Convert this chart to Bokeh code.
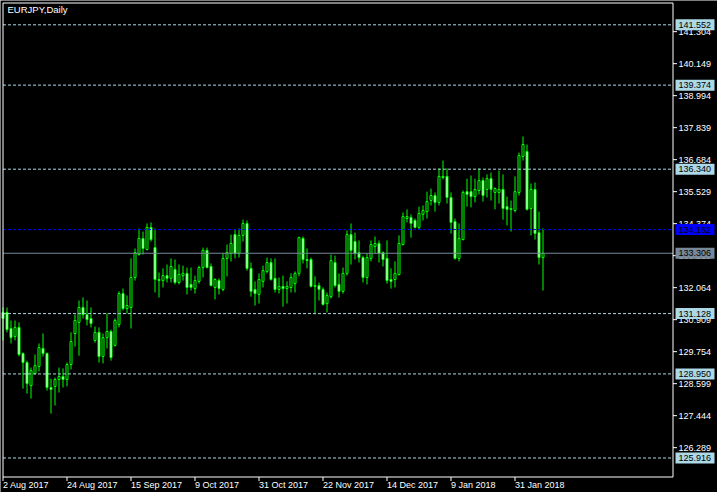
import numpy as np
from bokeh.plotting import figure
from bokeh.models import ColumnDataSource, Range1d
from bokeh.embed import file_html
from bokeh.resources import INLINE
from bokeh.core.properties import value

# ---------------- data ----------------
chart_title = "EURJPY,Daily"

opens = [131.17, 131.17, 130.59, 130.30, 130.63, 129.69, 129.36, 128.53, 128.96, 129.22,
         129.87, 129.69, 128.46, 128.50, 128.75, 128.86, 128.75, 129.29, 130.41, 130.81,
         131.35, 131.09, 130.95, 130.16, 130.45, 129.58, 130.26, 130.48, 129.98, 130.73,
         131.85, 131.31, 131.35, 132.43, 133.26, 133.84, 133.44, 134.24, 133.51, 132.36,
         132.32, 132.50, 132.40, 132.72, 132.25, 132.50, 132.58, 132.18, 132.03, 132.29,
         132.79, 133.41, 132.83, 132.07, 132.32, 132.00, 133.12, 133.30, 133.98, 133.30,
         133.95, 134.38, 132.76, 132.00, 131.82, 132.29, 132.65, 132.97, 132.40, 132.00,
         132.11, 132.03, 132.07, 132.21, 132.58, 133.84, 133.08, 133.08, 132.11, 132.14,
         132.00, 131.49, 131.74, 132.97, 132.18, 131.93, 132.58, 133.98, 133.73, 133.33,
         133.15, 132.43, 133.12, 133.55, 133.66, 133.33, 133.12, 132.36, 132.36, 132.54,
         133.62, 134.56, 134.60, 134.49, 134.24, 134.71, 134.81, 135.21, 135.39, 135.14,
         136.04, 136.08, 135.32, 134.45, 133.12, 133.80, 135.53, 135.53, 135.35, 135.57,
         135.93, 135.61, 136.00, 135.50, 135.50, 135.61, 134.99, 134.92, 134.85, 135.50,
         136.80, 136.98, 134.92, 135.61, 134.05, 133.15]
highs = [131.35, 131.35, 130.88, 130.88, 130.81, 129.72, 129.43, 129.18, 129.65, 130.05,
         130.41, 129.72, 128.78, 128.82, 129.18, 129.15, 129.36, 130.45, 131.09, 131.60,
         131.71, 131.60, 131.35, 130.66, 130.63, 130.41, 131.13, 130.55, 130.95, 131.93,
         132.03, 131.78, 133.12, 133.48, 134.20, 134.09, 134.38, 134.42, 134.20, 132.61,
         132.76, 132.90, 133.12, 133.08, 132.90, 132.86, 132.79, 132.79, 132.50, 132.86,
         133.51, 133.51, 132.94, 132.40, 132.40, 133.30, 133.62, 133.98, 134.16, 134.20,
         134.52, 134.49, 132.97, 132.29, 132.58, 132.86, 133.15, 133.12, 133.12, 132.43,
         132.50, 132.29, 132.58, 132.65, 133.91, 133.91, 133.48, 133.15, 132.47, 132.25,
         132.07, 131.89, 133.26, 133.22, 132.58, 132.79, 134.13, 134.38, 134.05, 133.77,
         133.22, 133.30, 133.77, 133.91, 133.77, 133.37, 133.77, 132.76, 133.01, 133.95,
         134.78, 134.89, 134.71, 134.56, 134.99, 135.03, 135.53, 135.64, 135.50, 136.37,
         136.65, 136.37, 135.50, 134.56, 134.38, 135.57, 136.00, 136.11, 136.00, 136.37,
         136.04, 136.15, 136.22, 135.68, 136.29, 136.15, 135.35, 135.21, 136.08, 136.94,
         137.52, 137.23, 135.82, 135.86, 134.81, 134.20]
lows = [130.16, 130.45, 130.05, 130.16, 129.58, 128.42, 128.24, 128.06, 128.93, 129.04,
        129.58, 128.35, 127.52, 127.81, 128.28, 128.46, 128.50, 129.11, 129.94, 129.61,
        130.95, 130.70, 130.63, 130.08, 129.36, 129.33, 129.87, 129.43, 129.94, 130.63,
        131.24, 131.13, 130.59, 132.32, 133.22, 133.26, 133.41, 133.73, 131.89, 131.71,
        132.07, 132.25, 132.25, 132.18, 132.18, 132.32, 131.82, 131.96, 131.85, 132.21,
        132.43, 132.76, 132.11, 131.64, 131.82, 131.93, 132.47, 133.01, 133.12, 133.15,
        133.73, 132.68, 131.74, 131.42, 131.49, 132.07, 132.58, 132.32, 131.89, 131.85,
        131.38, 131.49, 131.89, 131.89, 132.47, 132.94, 132.76, 132.07, 131.13, 131.60,
        131.42, 131.17, 131.67, 132.07, 131.71, 131.85, 132.50, 132.90, 133.08, 132.97,
        132.25, 132.18, 133.01, 133.30, 132.97, 132.83, 132.21, 132.03, 132.07, 132.50,
        133.59, 134.42, 133.87, 134.20, 134.16, 134.49, 134.56, 135.03, 134.81, 135.03,
        135.97, 135.10, 134.02, 133.08, 133.01, 133.77, 134.99, 134.96, 135.14, 135.43,
        135.17, 135.32, 135.21, 134.89, 135.10, 134.52, 134.31, 134.09, 134.78, 135.39,
        136.65, 134.85, 133.95, 133.80, 132.90, 131.96]
closes = [130.95, 130.55, 130.26, 130.63, 129.65, 129.36, 128.60, 129.07, 129.25, 129.90,
          129.69, 128.46, 128.39, 128.75, 128.86, 128.75, 129.29, 130.12, 130.88, 131.35,
          131.09, 130.91, 130.77, 130.45, 129.58, 130.26, 130.48, 129.54, 130.88, 131.85,
          131.31, 131.42, 132.43, 133.33, 133.84, 133.48, 134.24, 133.80, 132.36, 132.32,
          132.50, 132.40, 132.83, 132.25, 132.54, 132.58, 132.07, 132.07, 132.32, 132.79,
          133.41, 132.79, 132.14, 132.36, 132.03, 133.12, 133.33, 133.66, 133.30, 133.95,
          134.38, 132.76, 131.93, 131.85, 132.36, 132.68, 132.97, 132.36, 132.00, 132.11,
          132.03, 132.11, 132.43, 132.58, 133.87, 133.08, 133.04, 132.11, 132.14, 132.00,
          131.46, 131.78, 133.04, 132.14, 131.93, 132.58, 133.98, 133.41, 133.30, 133.15,
          132.43, 133.15, 133.62, 133.66, 133.30, 133.08, 132.32, 132.29, 132.58, 133.66,
          134.63, 134.63, 134.38, 134.24, 134.74, 134.85, 135.17, 135.39, 135.14, 136.08,
          136.08, 135.32, 134.42, 133.12, 133.84, 135.50, 135.43, 135.35, 135.61, 135.93,
          135.39, 136.00, 135.61, 135.64, 135.61, 134.92, 134.89, 134.89, 135.53, 136.83,
          137.23, 134.89, 135.61, 134.02, 133.15, 133.306]

date_tick_bars = [0, 16, 32, 48, 64, 80, 96, 112, 128]
date_tick_labels = ["2 Aug 2017", "24 Aug 2017", "15 Sep 2017", "9 Oct 2017",
                    "31 Oct 2017", "22 Nov 2017", "14 Dec 2017", "9 Jan 2018",
                    "31 Jan 2018"]

price_ticks = [141.304, 140.149, 138.994, 137.839, 136.684, 135.529, 134.374,
               133.219, 132.064, 130.909, 129.754, 128.599, 127.444, 126.289]

level_prices = [141.552, 139.374, 136.340, 131.128, 128.950, 125.916]
pivot_price = 134.162
bid_price = 133.306

# ---------------- layout (pixel geometry -> data via the scales) ----------------
W, H = 717, 492
BAR_PX = 4.0          # pixels per bar
PX0 = 2.5             # pixel column of bar 0 centre
PPU = 27.705          # pixels per price unit
Y_TOP_PRICE = 142.429 # price at the top pixel row

x_start = -PX0 / BAR_PX
x_end = (W - PX0) / BAR_PX
y_end = Y_TOP_PRICE
y_start = Y_TOP_PRICE - H / PPU

def px_x(X):   # horizontal pixel -> data x
    return (X - PX0) / BAR_PX

def px_y(Y):   # vertical pixel (from top) -> price
    return Y_TOP_PRICE - Y / PPU

CH_L, CH_R, CH_T, CH_B = px_x(2.5), px_x(672.5), px_y(2.5), px_y(476.5)

GREEN = "#00ff00"
LIGHTBLUE = "#add8e6"
BLUE = "#0000ff"
GRAY = "#778899"
FONT = "Liberation Sans"

p = figure(width=W, height=H, x_range=Range1d(x_start, x_end),
           y_range=Range1d(y_start, y_end), output_backend="svg",
           toolbar_location=None, x_axis_location=None, y_axis_location=None,
           background_fill_color="black", border_fill_color="black",
           min_border=0, outline_line_color=None)
p.grid.visible = False

# candles
idx = np.arange(len(opens))
o = np.array(opens); h = np.array(highs); l = np.array(lows); c = np.array(closes)
bull = c >= o
bear = ~bull
p.segment(x0=idx, y0=h, x1=idx, y1=l, line_color=GREEN, line_width=1)
p.vbar(x=idx[bull], top=c[bull], bottom=o[bull], width=0.5,
       fill_color="black", line_color=GREEN, line_width=1)
p.vbar(x=idx[bear], top=o[bear], bottom=c[bear], width=0.5,
       fill_color="white", line_color=GREEN, line_width=1)

# horizontal level lines across the chart area
n_lv = len(level_prices)
p.segment(x0=[CH_L] * n_lv, y0=level_prices, x1=[CH_R] * n_lv, y1=level_prices,
          line_color=LIGHTBLUE, line_width=1, line_dash="3 2")
p.segment(x0=[CH_L], y0=[pivot_price], x1=[CH_R], y1=[pivot_price],
          line_color=BLUE, line_width=1, line_dash="3 2")
p.segment(x0=[CH_L], y0=[bid_price], x1=[CH_R], y1=[bid_price],
          line_color=GRAY, line_width=1)

# chart frame
p.multi_line(xs=[[CH_L, CH_R, CH_R, CH_L, CH_L]], ys=[[CH_T, CH_T, CH_B, CH_B, CH_T]],
             line_color="white", line_width=1)

# right price scale: ticks + labels
n_t = len(price_ticks)
p.segment(x0=[CH_R] * n_t, y0=price_ticks, x1=[px_x(676.5)] * n_t, y1=price_ticks,
          line_color="white", line_width=1)
p.text(x=[px_x(678)] * n_t, y=price_ticks, text=["%.3f" % t for t in price_ticks],
       text_color="white", text_font=value(FONT), text_font_size=value("9px"),
       text_align="left", text_baseline="middle")

# price boxes over the scale
box_prices = level_prices + [pivot_price, bid_price]
box_colors = [LIGHTBLUE] * n_lv + [BLUE, GRAY]
box_src = ColumnDataSource(dict(
    x=[px_x(694.5)] * len(box_prices), y=box_prices,
    t=["%.3f" % v for v in box_prices], col=box_colors,
    tx=[px_x(678)] * len(box_prices)))
p.rect(x="x", y="y", width=39 / BAR_PX, height=11 / PPU, source=box_src,
       fill_color="col", line_color=None)
p.text(x="tx", y="y", text="t", source=box_src, text_color="black",
       text_font=value(FONT), text_font_size=value("9px"),
       text_align="left", text_baseline="middle")

# bottom time scale: ticks + left-aligned labels
n_d = len(date_tick_bars)
p.segment(x0=date_tick_bars, y0=[CH_B] * n_d, x1=date_tick_bars, y1=[px_y(480.5)] * n_d,
          line_color="white", line_width=1)
p.text(x=date_tick_bars, y=[px_y(479.5)] * n_d, text=date_tick_labels,
       text_color="white", text_font=value(FONT), text_font_size=value("9px"),
       text_align="left", text_baseline="top")

# title
p.text(x=[px_x(7)], y=[px_y(3.5)], text=[chart_title], text_color="white",
       text_font=value(FONT), text_font_size=value("9.5px"),
       text_align="left", text_baseline="top")

open("out.html", "w").write(file_html(p, INLINE))
